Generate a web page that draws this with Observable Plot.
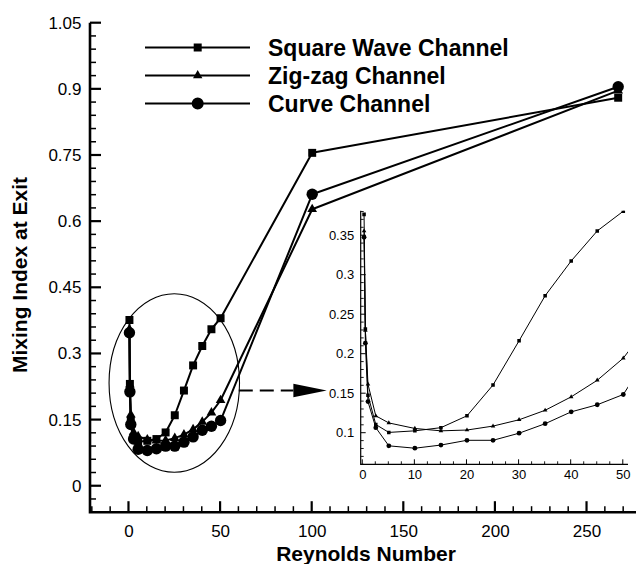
<!DOCTYPE html>
<html><head><meta charset="utf-8">
<script src="https://cdn.jsdelivr.net/npm/d3@7"></script>
<script src="https://cdn.jsdelivr.net/npm/@observablehq/plot@0.6"></script>
<style>
html,body{margin:0;padding:0;background:#fff;}
#wrap{position:relative;width:636px;height:564px;overflow:hidden;}
#main{position:absolute;left:0;top:0;}
#inset{position:absolute;left:320px;top:200px;}
</style></head><body>
<div id="wrap"><div id="main"></div><div id="inset"></div></div>
<script>
// ---- data ----
const reynolds   = [0.25, 0.5, 1, 2.5, 5, 10, 15, 20, 25, 30, 35, 40, 45, 50, 100, 267];
const squareWave = [0.377, 0.232, 0.148, 0.111, 0.101, 0.103, 0.107, 0.122, 0.161, 0.217, 0.274, 0.318, 0.356, 0.381, 0.756, 0.881];
const zigzag     = [0.356, 0.230, 0.162, 0.122, 0.113, 0.106, 0.103, 0.104, 0.109, 0.117, 0.129, 0.146, 0.167, 0.195, 0.628, 0.897];
const curve      = [0.348, 0.214, 0.140, 0.107, 0.084, 0.081, 0.085, 0.091, 0.091, 0.100, 0.112, 0.127, 0.136, 0.149, 0.662, 0.906];
const seriesNames   = ["Square Wave Channel", "Zig-zag Channel", "Curve Channel"];
const seriesSymbols = ["square", "triangle", "circle"];
const mainXTicks  = [0, 50, 100, 150, 200, 250];
const mainYTicks  = [0, 0.15, 0.3, 0.45, 0.6, 0.75, 0.9, 1.05];
const insetXTicks = [0, 10, 20, 30, 40, 50];
const insetYTicks = [0.1, 0.15, 0.2, 0.25, 0.3, 0.35];
const xTitle = "Reynolds Number";
const yTitle = "Mixing Index at Exit";

// ---- table ----
const seriesValues = [squareWave, zigzag, curve];
const rows = [];
seriesNames.forEach((name, i) => reynolds.forEach((re, j) =>
  rows.push({series: name, symbol: seriesSymbols[i], re, mix: seriesValues[i][j]})));
const bySeries = name => rows.filter(d => d.series === name);

const FONT = "'Liberation Sans', Arial, Helvetica, sans-serif";

function near(a, list) { return list.some(b => Math.abs(a - b) < 1e-6); }

// axis lines + inward ticks drawn through the plot's scales
function frameAxes(o) {
  return (index, scales, values, dims) => {
    const {x, y} = scales;
    const L = dims.marginLeft, R = dims.width - dims.marginRight;
    const T = dims.marginTop, B = dims.height - dims.marginBottom;
    const g = d3.create("svg:g").attr("stroke", "#000").attr("fill", "none");
    for (const v of o.yMinor) if (!near(v, o.yMajor)) {
      const p = y(v); g.append("line").attr("x1", L).attr("x2", L + o.minorLen).attr("y1", p).attr("y2", p).attr("stroke-width", o.minorW);
    }
    for (const v of o.yMajor) {
      const p = y(v); g.append("line").attr("x1", L).attr("x2", L + o.majorLen).attr("y1", p).attr("y2", p).attr("stroke-width", o.majorW);
    }
    for (const v of o.xMinor) if (!near(v, o.xMajor)) {
      const p = x(v); g.append("line").attr("x1", p).attr("x2", p).attr("y1", B).attr("y2", B - o.minorLen).attr("stroke-width", o.minorW);
    }
    for (const v of o.xMajor) {
      const p = x(v); g.append("line").attr("x1", p).attr("x2", p).attr("y1", B).attr("y2", B - o.majorLen).attr("stroke-width", o.majorW);
    }
    g.append("path").attr("d", `M${L},${T}V${B}H${R}`).attr("stroke-width", o.axisW);
    return g.node();
  };
}

// ---- main chart ----
const mainXDomain = [-21, 277], mainYDomain = [-0.06, 1.05];
const ellipseC = {re: 25, mix: 0.233}, ellipseR = {re: 35.6, mix: 0.2025};
const arrowY = 0.216, arrowStart = 60.2, arrowBase = 90, arrowTip = 108.2;

function annotations(index, {x, y}) {
  const g = d3.create("svg:g");
  const cx = x(ellipseC.re), cy = y(ellipseC.mix);
  g.append("ellipse").attr("cx", cx).attr("cy", cy)
    .attr("rx", x(ellipseC.re + ellipseR.re) - cx).attr("ry", y(ellipseC.mix - ellipseR.mix) - cy)
    .attr("fill", "none").attr("stroke", "#000").attr("stroke-width", 1.1);
  const ay = y(arrowY);
  g.append("line").attr("x1", x(arrowStart)).attr("x2", x(arrowBase)).attr("y1", ay).attr("y2", ay)
    .attr("stroke", "#000").attr("stroke-width", 2).attr("stroke-dasharray", "14,7");
  g.append("path").attr("d", `M${x(arrowBase)},${ay - 6.7}L${x(arrowTip)},${ay}L${x(arrowBase)},${ay + 6.7}Z`).attr("fill", "#000");
  return g.node();
}

const legendSym = {square: d3.symbolSquare, triangle: d3.symbolTriangle, circle: d3.symbolCircle};
const legendSize = {square: 64, triangle: 38, circle: 113};
function legend() {
  const g = d3.create("svg:g");
  const rowsY = [47.5, 75.5, 103.5];
  seriesNames.forEach((name, i) => {
    const yy = rowsY[i];
    g.append("line").attr("x1", 145).attr("x2", 250).attr("y1", yy).attr("y2", yy).attr("stroke", "#000").attr("stroke-width", 2);
    g.append("path").attr("transform", `translate(197.7,${yy})`)
      .attr("d", d3.symbol(legendSym[seriesSymbols[i]], legendSize[seriesSymbols[i]])()).attr("fill", "#000");
    g.append("text").attr("x", 268).attr("y", yy).attr("dy", "0.36em").attr("font-size", 23).attr("font-weight", "bold")
      .attr("text-anchor", "start").attr("font-family", FONT).attr("fill", "#000").text(name);
  });
  return g.node();
}

function titles(index, scales, values, dims) {
  const g = d3.create("svg:g").attr("font-family", FONT).attr("font-weight", "bold").attr("font-size", 21).attr("fill", "#000");
  g.append("text").attr("transform", "translate(27,275) rotate(-90)").attr("text-anchor", "middle").text(yTitle);
  g.append("text").attr("x", 366).attr("y", 561).attr("text-anchor", "middle").text(xTitle);
  return g.node();
}

const mainR = {square: 4.5, triangle: 3.6, circle: 5.7};
const main = Plot.plot({
  width: 636, height: 564,
  marginLeft: 90, marginRight: 0, marginTop: 22.7, marginBottom: 51.8,
  x: {domain: mainXDomain}, y: {domain: mainYDomain},
  style: {fontFamily: FONT, color: "#000", background: "transparent", overflow: "visible"},
  marks: [
    Plot.axisX({ticks: mainXTicks, tickSize: 0, tickPadding: 12, tickFormat: d => String(d), fontSize: 17, label: null}),
    Plot.axisY({ticks: mainYTicks, tickSize: 0, tickPadding: 9, tickFormat: d => String(d), fontSize: 17, label: null}),
    frameAxes({
      xMajor: mainXTicks, xMinor: d3.range(-20, 271, 10),
      yMajor: mainYTicks, yMinor: d3.range(-0.06, 1.0501, 0.03).map(v => +v.toFixed(2)),
      majorLen: 11, minorLen: 6, majorW: 2.2, minorW: 1.5, axisW: 2.6
    }),
    annotations,
    ...seriesNames.map(n => Plot.line(bySeries(n), {x: "re", y: "mix", stroke: "#000", strokeWidth: 2})),
    ...seriesNames.map((n, i) => Plot.dot(bySeries(n), {x: "re", y: "mix", symbol: seriesSymbols[i], r: mainR[seriesSymbols[i]], fill: "#000", stroke: "none"})),
    legend,
    titles
  ]
});
document.getElementById("main").append(main);

// ---- inset ----
const insetXDomain = [-0.3, 51], insetYDomain = [0.06, 0.381];
const insetR = {square: 2, triangle: 1.7, circle: 2.4};
const insetRows = rows.filter(d => d.re <= 100);
const inset = Plot.plot({
  width: 316, height: 285,
  marginLeft: 40.7, marginRight: 8, marginTop: 10.7, marginBottom: 20.7,
  x: {domain: insetXDomain}, y: {domain: insetYDomain},
  style: {fontFamily: FONT, color: "#000", background: "transparent", overflow: "visible"},
  marks: [
    Plot.axisX({ticks: insetXTicks, tickSize: 0, tickPadding: 5, tickFormat: d => String(d), fontSize: 13, label: null}),
    Plot.axisY({ticks: insetYTicks, tickSize: 0, tickPadding: 7, tickFormat: d => String(d), fontSize: 13, label: null}),
    frameAxes({
      xMajor: insetXTicks, xMinor: d3.range(0, 50.01, 2.5),
      yMajor: insetYTicks, yMinor: d3.range(0.06, 0.3801, 0.01).map(v => +v.toFixed(2)),
      majorLen: 5, minorLen: 3, majorW: 1, minorW: 0.9, axisW: 1.2
    }),
    ...seriesNames.map(n => Plot.line(insetRows.filter(d => d.series === n), {x: "re", y: "mix", stroke: "#000", strokeWidth: 1, clip: true})),
    ...seriesNames.map((n, i) => Plot.dot(insetRows.filter(d => d.series === n && d.re <= 50), {x: "re", y: "mix", symbol: seriesSymbols[i], r: insetR[seriesSymbols[i]], fill: "#000", stroke: "none", clip: true}))
  ]
});
document.getElementById("inset").append(inset);
</script>
</body></html>
